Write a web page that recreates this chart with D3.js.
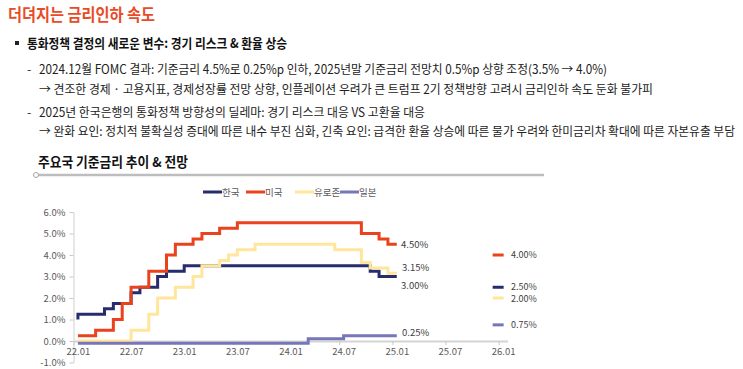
<!DOCTYPE html>
<html>
<head>
<meta charset="utf-8">
<script src="https://cdn.jsdelivr.net/npm/d3@7"></script>
<style>
  body { margin: 0; background: #fff; }
  text { font-family: "Noto Sans CJK KR", "Noto Sans", sans-serif; }
</style>
</head>
<body>
<svg id="chart" width="743" height="369"></svg>
<script>
// monthly end-of-month policy rates, 2021.12 .. 2025.01 (38 months)
const seriesNames = ["한국", "미국", "유로존", "일본"];
const korea = [1.00,
  1.25, 1.25, 1.25, 1.50, 1.75, 1.75, 2.25, 2.50, 2.50, 3.00, 3.25, 3.25,
  3.50, 3.50, 3.50, 3.50, 3.50, 3.50, 3.50, 3.50, 3.50, 3.50, 3.50, 3.50,
  3.50, 3.50, 3.50, 3.50, 3.50, 3.50, 3.50, 3.50, 3.50, 3.25, 3.00, 3.00,
  3.00];
const usa = [0.25,
  0.25, 0.25, 0.50, 0.50, 1.00, 1.75, 2.50, 2.50, 3.25, 3.25, 4.00, 4.50,
  4.50, 4.75, 5.00, 5.00, 5.25, 5.25, 5.50, 5.50, 5.50, 5.50, 5.50, 5.50,
  5.50, 5.50, 5.50, 5.50, 5.50, 5.50, 5.50, 5.50, 5.00, 5.00, 4.75, 4.50,
  4.50];
const euro = [0.00,
  0.00, 0.00, 0.00, 0.00, 0.00, 0.00, 0.50, 0.50, 1.25, 2.00, 2.00, 2.50,
  2.50, 3.00, 3.50, 3.50, 3.75, 4.00, 4.25, 4.25, 4.50, 4.50, 4.50, 4.50,
  4.50, 4.50, 4.50, 4.50, 4.50, 4.25, 4.25, 4.25, 3.65, 3.40, 3.40, 3.15,
  3.15];
const japan = [-0.10,
  -0.10, -0.10, -0.10, -0.10, -0.10, -0.10, -0.10, -0.10, -0.10, -0.10, -0.10, -0.10,
  -0.10, -0.10, -0.10, -0.10, -0.10, -0.10, -0.10, -0.10, -0.10, -0.10, -0.10, -0.10,
  -0.10, -0.10, 0.10, 0.10, 0.10, 0.10, 0.25, 0.25, 0.25, 0.25, 0.25, 0.25,
  0.25];
// 2025년말 전망치 (한국, 미국, 유로존, 일본)
const forecast = [2.50, 4.00, 2.00, 0.75];
const endLabels = ["3.00%", "4.50%", "3.15%", "0.25%"];
const forecastLabels = ["2.50%", "4.00%", "2.00%", "0.75%"];
const xTickLabels = ["22.01", "22.07", "23.01", "23.07", "24.01", "24.07", "25.01", "25.07", "26.01"];
const yTicks = [-1, 0, 1, 2, 3, 4, 5, 6];

const colors = ["#262c6c", "#e9421d", "#ffe69c", "#7676b8"];
const allSeries = [korea, usa, euro, japan];

const svg = d3.select("#chart");

// ---- header text
svg.append("text").attr("x", 8).attr("y", 21)
  .attr("font-size", 17).attr("font-weight", 700).attr("fill", "#e94b27")
  .attr("textLength", 147).attr("lengthAdjust", "spacingAndGlyphs")
  .text("더뎌지는 금리인하 속도");

svg.append("rect").attr("x", 15).attr("y", 41).attr("width", 4).attr("height", 4).attr("fill", "#222");
svg.append("text").attr("x", 27).attr("y", 48)
  .attr("font-size", 13).attr("font-weight", 700).attr("fill", "#111")
  .attr("textLength", 260).attr("lengthAdjust", "spacingAndGlyphs")
  .text("통화정책 결정의 새로운 변수: 경기 리스크 & 환율 상승");

const bodyLines = [
  { y: 74, dash: true, w: 568, t: "2024.12월 FOMC 결과: 기준금리 4.5%로 0.25%p 인하, 2025년말 기준금리 전망치 0.5%p 상향 조정(3.5% → 4.0%)" },
  { y: 94, dash: false, w: 614, t: "→ 견조한 경제 · 고용지표, 경제성장률 전망 상향, 인플레이션 우려가 큰 트럼프 2기 정책방향 고려시 금리인하 속도 둔화 불가피" },
  { y: 117, dash: true, w: 386, t: "2025년 한국은행의 통화정책 방향성의 딜레마: 경기 리스크 대응 VS 고환율 대응" },
  { y: 136, dash: false, w: 696, t: "→ 완화 요인: 정치적 불확실성 증대에 따른 내수 부진 심화, 긴축 요인: 급격한 환율 상승에 따른 물가 우려와 한미금리차 확대에 따른 자본유출 부담" }
];
bodyLines.forEach(l => {
  if (l.dash) {
    svg.append("text").attr("x", 27).attr("y", l.y).attr("font-size", 12.5).attr("fill", "#333").text("-");
  }
  svg.append("text").attr("x", 39).attr("y", l.y)
    .attr("font-size", 12.5).attr("fill", "#222")
    .attr("textLength", l.w).attr("lengthAdjust", "spacingAndGlyphs")
    .text(l.t);
});

// ---- chart title
svg.append("text").attr("x", 38).attr("y", 167)
  .attr("font-size", 13.5).attr("font-weight", 700).attr("fill", "#111")
  .attr("textLength", 150).attr("lengthAdjust", "spacingAndGlyphs")
  .text("주요국 기준금리 추이 & 전망");
svg.append("line").attr("x1", 36).attr("x2", 544).attr("y1", 175).attr("y2", 175)
  .attr("stroke", "#bdbdbd").attr("stroke-width", 2.5);
svg.append("circle").attr("cx", 36).attr("cy", 175).attr("r", 2.5)
  .attr("fill", "#fff").attr("stroke", "#a6a6a6").attr("stroke-width", 1);

// ---- scales (month index 0 = 2022.01)
const x = d3.scaleLinear().domain([0, 49]).range([73.5, 507.5]);
const y = d3.scaleLinear().domain([-1, 6]).range([362.5, 212]);

// y axis
const yAxis = svg.append("g").attr("transform", "translate(73.5,0)")
  .call(d3.axisLeft(y).tickValues(yTicks).tickFormat(d => d.toFixed(1) + "%").tickSize(4).tickSizeOuter(0));
yAxis.select(".domain").attr("stroke", "#d0d0d0");
yAxis.selectAll(".tick line").attr("stroke", "#c8c8c8");
yAxis.selectAll(".tick text").attr("x", -8).attr("font-size", 9.5).attr("fill", "#595959")
  .attr("font-family", "'Noto Sans', sans-serif");

// x axis at 0%
const xAxis = svg.append("g").attr("transform", `translate(0,${y(0)})`)
  .call(d3.axisBottom(x).tickValues(d3.range(0, 49, 6)).tickFormat((d, i) => xTickLabels[i]).tickSize(4).tickSizeOuter(0));
xAxis.select(".domain").attr("stroke", "#d4d4d4").attr("stroke-width", 2);
xAxis.selectAll(".tick line").attr("stroke", "#c8c8c8");
xAxis.selectAll(".tick text").attr("x", x(0.5) - x(0)).attr("y", 7)
  .attr("font-size", 9.5).attr("fill", "#595959").attr("font-family", "'Noto Sans', sans-serif");

// ---- step lines: first point (2021.12 value) sits at 2022.01 centre, then steps at month centres
const line = d3.line()
  .x(d => x(d[0]))
  .y(d => y(d[1]))
  .curve(d3.curveStepAfter);

const drawOrder = [0, 2, 1, 3];
drawOrder.forEach(si => {
  const vals = allSeries[si];
  const pts = [[0.5, vals[0]]].concat(vals.slice(1).map((v, i) => [i + 0.5, v]));
  svg.append("path").datum(pts)
    .attr("d", line)
    .attr("fill", "none")
    .attr("stroke", colors[si])
    .attr("stroke-width", 3);
});

// end labels
const endLabelPos = [[401, 289], [401, 248], [402, 271], [402, 336]];
endLabels.forEach((t, i) => {
  svg.append("text").attr("x", endLabelPos[i][0]).attr("y", endLabelPos[i][1])
    .attr("font-size", 9.5).attr("fill", "#404040").attr("font-family", "'Noto Sans', sans-serif")
    .text(t);
});

// forecast markers at 2025년말
const forecastNudge = [-1, 0, 1, 0];
forecast.forEach((v, i) => {
  svg.append("line").attr("x1", x(48) - 6).attr("x2", x(48) + 5)
    .attr("y1", y(v)).attr("y2", y(v))
    .attr("stroke", colors[i]).attr("stroke-width", 3);
  svg.append("text").attr("x", 511).attr("y", y(v) + 3.3 + forecastNudge[i])
    .attr("font-size", 9).attr("fill", "#404040").attr("font-family", "'Noto Sans', sans-serif")
    .text(forecastLabels[i]);
});

// ---- legend
const legendX = [203, 246, 295, 340];
seriesNames.forEach((n, i) => {
  const g = svg.append("g").attr("transform", `translate(${legendX[i]},192)`);
  g.append("line").attr("x1", 0).attr("x2", 19).attr("stroke", colors[i]).attr("stroke-width", 3);
  g.append("text").attr("x", 19).attr("y", 3.5).attr("font-size", 9.5).attr("fill", "#595959").text(n);
});
</script>
</body>
</html>
